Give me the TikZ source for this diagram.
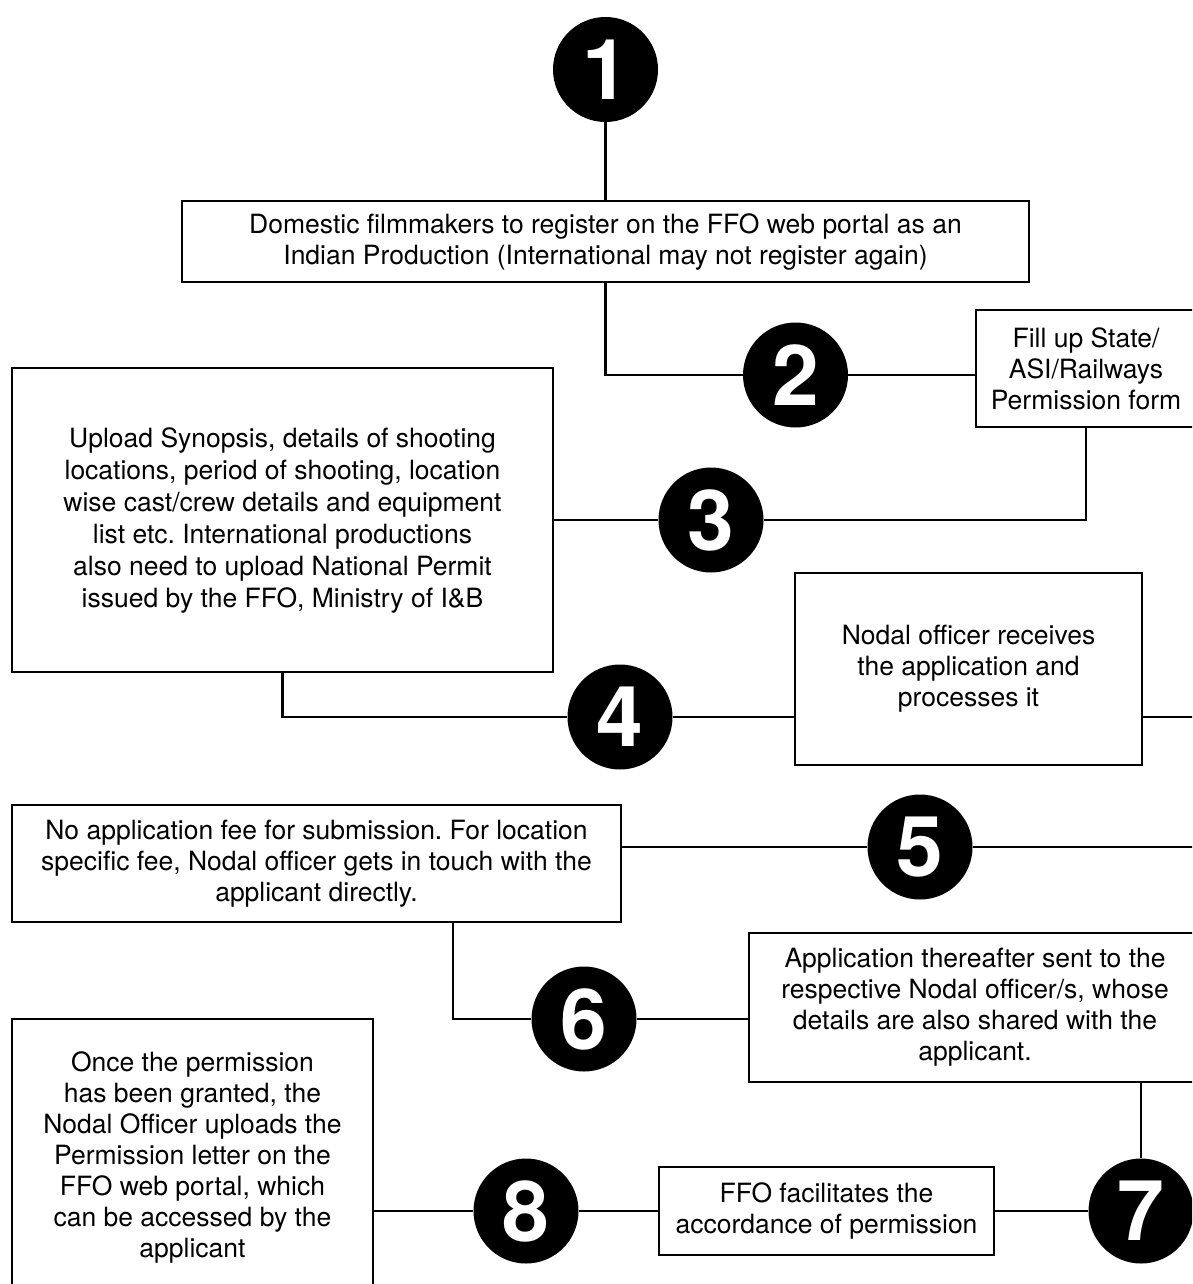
\documentclass[tikz,border=0pt]{standalone}
\usepackage{fontspec}
\setmainfont{TeX Gyre Heros}
\usetikzlibrary{calc}
\frenchspacing

\begin{document}
\begin{tikzpicture}[x=1pt,y=-1pt,
	stepbox/.style={draw,line width=2.5pt,inner sep=0pt,align=center,font=\fontsize{26.5}{31}\selectfont},
	num/.style={circle,fill=black,text=white,minimum size=105pt,inner sep=0pt,font=\fontsize{84}{84}\selectfont\bfseries},
	link/.style={line width=2.2pt}]
	\useasboundingbox (0,0) rectangle (1192,1284);
	\clip (0,0) rectangle (1192,1284);
	\node [stepbox,minimum width=847pt,minimum height=81pt] (b1) at (605.5,241.5) {Domestic filmmakers to register on the FFO web portal as an\\Indian Production (International may not register again)};
	\node [stepbox,minimum width=220pt,minimum height=117pt] (b2) at (1086,368.5) {Fill up State/\\ASI/Railways\\Permission form};
	\node [stepbox,minimum width=541pt,minimum height=304pt,font=\fontsize{26.5}{32}\selectfont] (b3) at (282.5,520) {Upload Synopsis, details of shooting\\locations, period of shooting, location\\wise cast/crew details and equipment\\list etc. International productions\\also need to upload National Permit\\issued by the FFO, Ministry of I\&B};
	\node [stepbox,minimum width=347pt,minimum height=192pt] (b4) at (968.5,669) {Nodal officer receives\\the application and\\processes it};
	\node [stepbox,minimum width=609pt,minimum height=117pt] (b5) at (316.5,863.5) {No application fee for submission. For location\\specific fee, Nodal officer gets in touch with the\\applicant directly.};
	\node [stepbox,minimum width=452pt,minimum height=149pt] (b6) at (975,1007.5) {Application thereafter sent to the\\respective Nodal officer/s, whose\\details are also shared with the\\applicant.};
	\node [stepbox,minimum width=335pt,minimum height=88pt] (b7) at (826.5,1211) {FFO facilitates the\\accordance of permission};
	\node [stepbox,minimum width=361pt,minimum height=276pt] (b8) at (192.5,1157) {Once the permission\\has been granted, the\\Nodal Officer uploads the\\Permission letter on the\\FFO web portal, which\\can be accessed by the\\applicant};
	\node [num] (c1) at (605.5,69.5) {1};
	\node [num] (c2) at (795.5,375) {2};
	\node [num] (c3) at (711,520) {3};
	\node [num] (c4) at (620,717) {4};
	\node [num] (c5) at (920,847) {5};
	\node [num] (c6) at (584,1019) {6};
	\node [num] (c7) at (1141,1211) {7};
	\node [num] (c8) at (526,1211) {8};
	\coordinate (r4) at (1200,717);
	\coordinate (r5) at (1200,847);
	\coordinate (j6) at (453,1019);
	\draw [link] (c1) -- (b1);
	\draw [link] (b1.south) |- (c2) (c2) -- (c2 -| b2.west);
	\draw [link] (b2.south) |- (c3) (c3) -- (c3 -| b3.east);
	\draw [link] (b3.south) |- (c4) (c4) -- (c4 -| b4.west) (c4 -| b4.east) -- (r4);
	\draw [link] (r5) -- (c5) (c5) -- (c5 -| b5.east);
	\draw [link] (b5.south -| j6) -- (j6) -- (c6) (c6) -- (c6 -| b6.west);
	\draw [link] (b6.south -| c7) -- (c7) (c7) -- (b7);
	\draw [link] (b7) -- (c8) (c8) -- (c8 -| b8.east);
\end{tikzpicture}
\end{document}
